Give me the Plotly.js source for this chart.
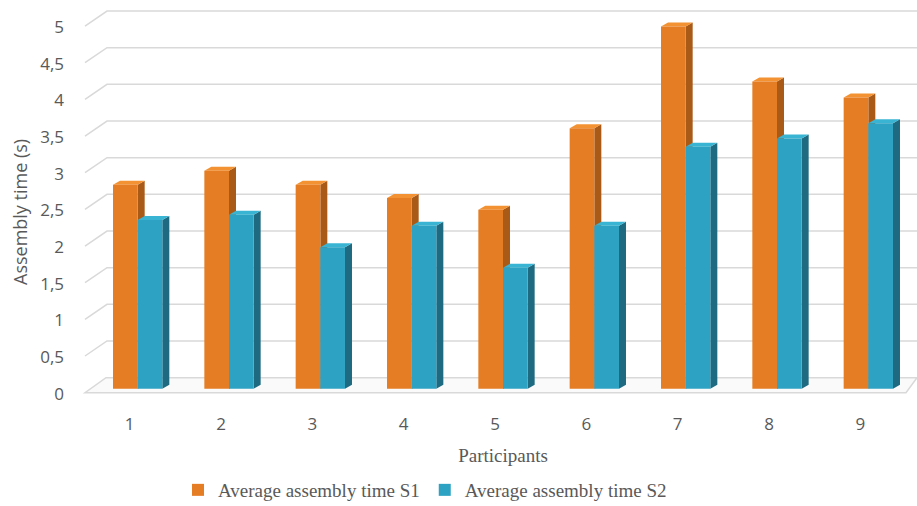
<!DOCTYPE html>
<html><head><meta charset="utf-8">
<script src="https://cdn.plot.ly/plotly-3.0.1.min.js"></script>
<style>html,body{margin:0;padding:0;background:#fff}</style>
</head><body><div id="chart" style="width:917px;height:506px"></div>
<script>
// ---- data ----
const participants = [1, 2, 3, 4, 5, 6, 7, 8, 9];
const timeS1 = [2.78, 2.97, 2.78, 2.60, 2.44, 3.55, 4.94, 4.19, 3.97];
const timeS2 = [2.30, 2.37, 1.93, 2.22, 1.65, 2.22, 3.30, 3.41, 3.62];
const seriesNames = ['Average assembly time S1', 'Average assembly time S2'];
const yTickVals = [0, 0.5, 1, 1.5, 2, 2.5, 3, 3.5, 4, 4.5, 5];
const yTickText = ['0', '0,5', '1', '1,5', '2', '2,5', '3', '3,5', '4', '4,5', '5'];

// ---- geometry (styling) ----
const W = 917, H = 506;
const L = 92, R = 914, T = 5, B = 396;
const yMin = -0.1, yMax = 5.232;
const pxX = (R - L) / 9;
const pxY = (B - T) / (yMax - yMin);
const paperX = px => (px - L) / (R - L);
const paperY = py => (B - py) / (B - T);
const barW = 0.27;
const offsets = [-barW, 0];
const depthX = 7 / pxX, depthY = 4 / pxY;
const wallShift = 11 / pxY, frontShift = -4 / pxY;

const frontColors = ['#E57D25', '#2EA2C2'];
const sideColors = ['#A95A17', '#1E6A80'];
const topColors = ['#F39232', '#3AB4D3'];

const traces = [timeS1, timeS2].map((vals, s) => ({
  type: 'bar', x: participants, y: vals, name: seriesNames[s],
  width: barW, offset: offsets[s],
  marker: { color: frontColors[s], line: { width: 0 } },
  hoverinfo: 'x+y+name'
}));

const shapes = [];
shapes.push({
  type: 'path', layer: 'below', xref: 'paper', yref: 'y',
  path: `M ${paperX(85)},${frontShift} L ${paperX(906)},${frontShift} L ${paperX(917)},${wallShift} L ${paperX(106)},${wallShift} Z`,
  fillcolor: '#FAFAFA', line: { color: '#D9D9D9', width: 1.5 }
});
yTickVals.forEach(t => {
  if (t === 0) return;
  shapes.push({
    type: 'path', layer: 'below', xref: 'paper', yref: 'y',
    path: `M ${paperX(85)},${t + frontShift} L ${paperX(107)},${t + wallShift} L ${paperX(917)},${t + wallShift}`,
    line: { color: '#D9D9D9', width: 1.5 }
  });
});
[timeS1, timeS2].forEach((vals, s) => {
  vals.forEach((v, i) => {
    const xl = participants[i] + offsets[s];
    const xr = xl + barW;
    shapes.push({
      type: 'path', layer: 'below', xref: 'x', yref: 'y',
      path: `M ${xr},0 L ${xr},${v} L ${xr + depthX},${v + depthY} L ${xr + depthX},${depthY} Z`,
      fillcolor: sideColors[s], line: { width: 0 }
    });
    shapes.push({
      type: 'path', layer: 'below', xref: 'x', yref: 'y',
      path: `M ${xl},${v} L ${xr},${v} L ${xr + depthX},${v + depthY} L ${xl + depthX},${v + depthY} Z`,
      fillcolor: topColors[s], line: { width: 0 }
    });
  });
});

const grey = '#595959';
const layout = {
  width: W, height: H,
  margin: { l: L, r: W - R, t: T, b: H - B, pad: 0, autoexpand: false },
  paper_bgcolor: '#fff', plot_bgcolor: 'rgba(0,0,0,0)',
  barmode: 'overlay',
  showlegend: true,
  xaxis: {
    range: [0.5, 9.5], tickvals: participants, ticktext: participants.map(String),
    showgrid: false, zeroline: false, showline: false, ticks: '',
    ticklabelstandoff: 16, ticklabelshift: -8,
    tickfont: { family: 'Open Sans, sans-serif', size: 17, color: grey },
    title: { text: 'Participants', standoff: 14, font: { family: 'Liberation Serif, serif', size: 19, color: grey } },
    automargin: false, fixedrange: true
  },
  yaxis: {
    range: [yMin, yMax], tickvals: yTickVals, ticktext: yTickText,
    showgrid: false, zeroline: false, showline: false, ticks: '',
    ticklabelstandoff: 27, ticklabelshift: 5,
    tickfont: { family: 'Open Sans, sans-serif', size: 17, color: grey },
    automargin: false, fixedrange: true
  },
  annotations: [{
    text: 'Assembly time (s)', textangle: -90, showarrow: false,
    xref: 'paper', yref: 'paper', x: paperX(20), y: paperY(212), xanchor: 'center', yanchor: 'middle',
    font: { family: 'Open Sans, sans-serif', size: 18, color: grey }
  }],
  legend: {
    orientation: 'h', x: paperX(425), xanchor: 'center', y: paperY(471), yanchor: 'top',
    font: { family: 'Liberation Serif, serif', size: 19, color: grey },
    itemwidth: 30, traceorder: 'normal'
  },
  shapes: shapes
};

Plotly.newPlot('chart', traces, layout, { displayModeBar: false, staticPlot: true });
</script>
</body></html>
